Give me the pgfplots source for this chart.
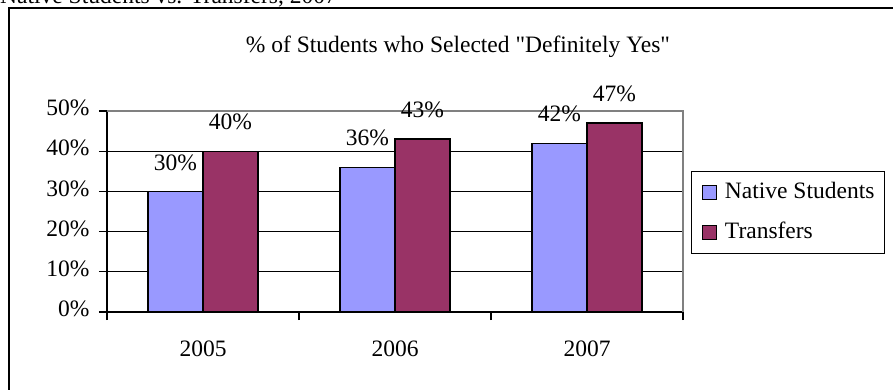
\documentclass[border=0pt]{standalone}
\usepackage{pgfplots}
\pgfplotsset{compat=1.18}
\usepackage{fontspec}
\setmainfont{Liberation Serif}
\newfontfamily\plainserif{Liberation Serif}
\definecolor{natblue}{HTML}{9999FF}
\definecolor{trmaroon}{HTML}{993366}
\newcommand{\bigfont}{\fontsize{23.5}{28}\selectfont}
\begin{document}
\begin{tikzpicture}[font=\bigfont]
\useasboundingbox (0pt,0pt) rectangle (893pt,-390pt);
\node[anchor=base west, inner sep=0pt] at (0pt,-4pt) {Native Students vs. Transfers, 2007};
\draw[line width=2pt] (9pt,-440pt) rectangle (905pt,-8pt);
\node[anchor=base, inner sep=0pt] at (458pt,-53pt) {\plainserif\% of Students who Selected "Definitely Yes"};
\begin{axis}[
  at={(107pt,-312pt)}, anchor=south west,
  scale only axis, width=576pt, height=201pt,
  xmin=-0.5, xmax=2.5, ymin=0, ymax=50,
  clip=false,
  axis x line*=bottom, axis y line*=left,
  axis line style={black, line width=1.3pt},
  ybar=0pt, bar width=55pt,
  xtick={-0.5,0.5,1.5,2.5},
  x tick label as interval,
  xticklabels={2005,2006,2007},
  ytick={0,10,20,30,40,50},
  yticklabels={0\%,10\%,20\%,30\%,40\%,50\%},
  tick align=outside, major tick length=8pt,
  tick style={black, line width=1.3pt},
  ymajorgrids, grid style={black, line width=1.3pt},
  tick label style={font=\bigfont},
  yticklabel style={xshift=-6pt, yshift=3pt},
  xticklabel style={anchor=base, yshift=-36pt},
  /pgf/number format/assume math mode=true,
  nodes near coords={\pgfmathprintnumber{\pgfplotspointmeta}\%},
  nodes near coords style={font=\bigfont, yshift=17pt, black},
  legend cell align=left,
  legend style={at={(1.0139,0.7015)}, anchor=north west, draw=black,
    line width=1.3pt, font=\bigfont,
    nodes={inner sep=0pt, text height=17pt, text depth=5pt},
    row sep=18pt, column sep=8pt, inner xsep=10pt, inner ysep=10pt},
]
\addplot[fill=natblue, draw=black, line width=1.3pt,
  legend image code/.code={\draw[fill=natblue, draw=black, line width=1.3pt] (0pt,-7pt) rectangle (14pt,7pt);}]
  coordinates {(0,30) (1,36) (2,42)};
\addplot[fill=trmaroon, draw=black, line width=1.3pt,
  legend image code/.code={\draw[fill=trmaroon, draw=black, line width=1.3pt] (0pt,-7pt) rectangle (14pt,7pt);}]
  coordinates {(0,40) (1,43) (2,47)};
\legend{Native Students, Transfers}
\draw[gray, line width=1.3pt] (axis cs:-0.5,50) -- (axis cs:2.5,50) -- (axis cs:2.5,0);
\end{axis}
\end{tikzpicture}
\end{document}
